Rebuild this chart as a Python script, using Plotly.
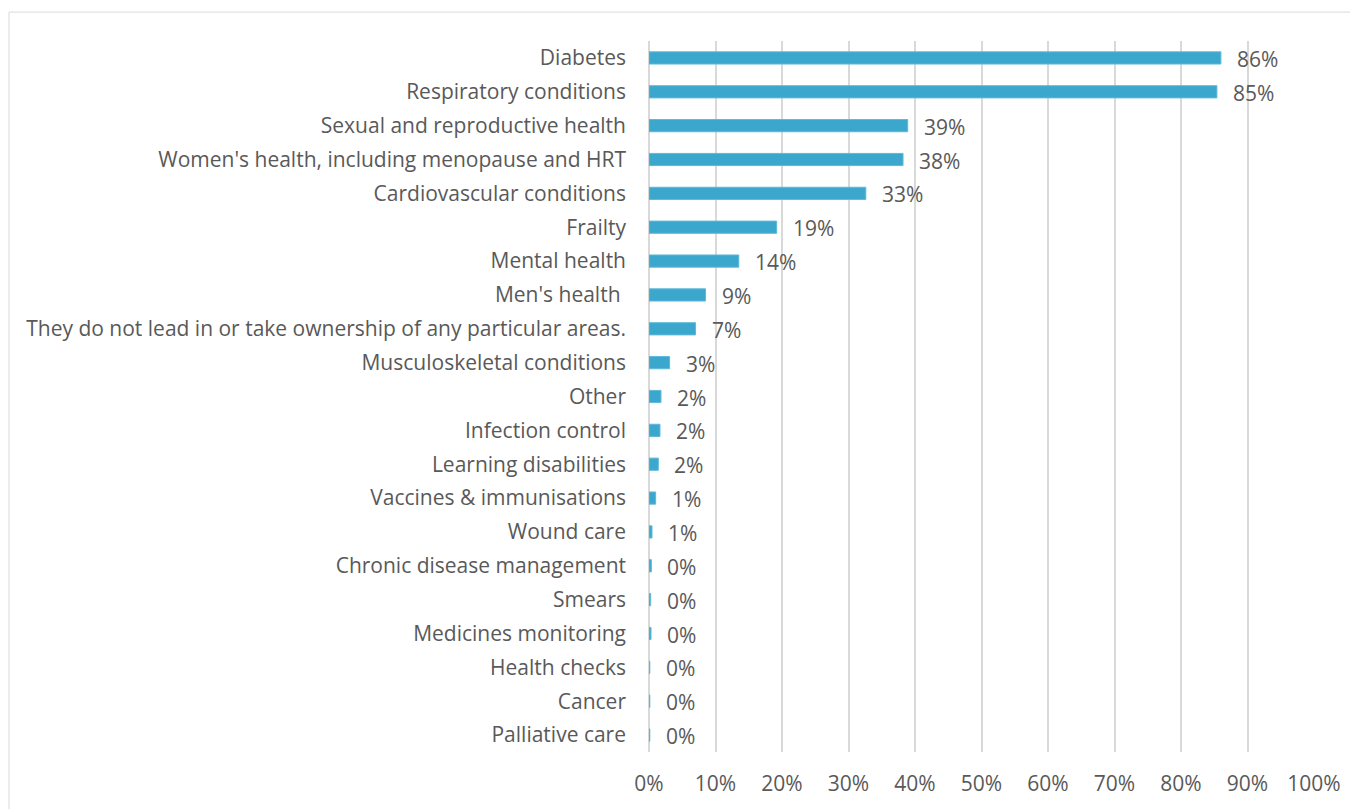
import plotly.graph_objects as go

categories = [
    "Diabetes",
    "Respiratory conditions",
    "Sexual and reproductive health",
    "Women's health, including menopause and HRT",
    "Cardiovascular conditions",
    "Frailty",
    "Mental health",
    "Men's health ",
    "They do not lead in or take ownership of any particular areas.",
    "Musculoskeletal conditions",
    "Other",
    "Infection control",
    "Learning disabilities",
    "Vaccines & immunisations",
    "Wound care",
    "Chronic disease management",
    "Smears",
    "Medicines monitoring",
    "Health checks",
    "Cancer",
    "Palliative care",
]
values = [86.0, 85.4, 38.9, 38.2, 32.6, 19.2, 13.5, 8.5, 7.0, 3.1,
          1.8, 1.65, 1.4, 1.0, 0.45, 0.35, 0.25, 0.3, 0.12, 0.12, 0.12]
label_pct = [86, 85, 39, 38, 33, 19, 14, 9, 7, 3, 2, 2, 2, 1, 1, 0, 0, 0, 0, 0, 0]
x_ticks = [0, 10, 20, 30, 40, 50, 60, 70, 80, 90, 100]

FONT = "Open Sans, Carlito, Calibri, sans-serif"
TXT = "#595959"
FS = 21

fig = go.Figure()
fig.add_trace(go.Bar(
    x=values,
    y=categories,
    orientation="h",
    marker=dict(color="#3BA7CD", line=dict(color="#5CB9DB", width=1)),
    width=0.36,
    hoverinfo="skip",
))

for v, c, lab in zip(values, categories, label_pct):
    fig.add_annotation(x=v, y=c, text=f"{lab}%", showarrow=False,
                       xanchor="left", yanchor="middle", xshift=14, yshift=-1,
                       font=dict(family=FONT, size=FS, color=TXT))

# page body has an 8px default margin; figure sized to fill the rest
OFF = 8
W, H = 1358 - OFF, 809 - OFF
ml, mr, mt, mb = 649 - OFF, 44, 41 - OFF, 55
pw, ph = W - ml - mr, H - mt - mb
fig.add_shape(type="rect", xref="paper", yref="paper",
              x0=(9 - OFF - ml) / pw, x1=(W + 20 - ml) / pw,
              y0=-(mb + 20) / ph, y1=1 + (mt - (12 - OFF)) / ph,
              line=dict(color="#D9D9D9", width=1), fillcolor="rgba(0,0,0,0)",
              layer="below")

fig.update_layout(
    width=W, height=H, autosize=False,
    margin=dict(l=ml, r=mr, t=mt, b=mb, pad=0),
    plot_bgcolor="white", paper_bgcolor="white",
    showlegend=False,
    font=dict(family=FONT, size=FS, color=TXT),
    xaxis=dict(range=[0, 100], tickvals=x_ticks, ticktext=[f"{t}%" for t in x_ticks],
               showgrid=True, gridcolor="#D9D9D9", gridwidth=2,
               zeroline=True, zerolinecolor="#D9D9D9", zerolinewidth=2,
               showline=False, ticks="", ticklabelstandoff=17,
               tickfont=dict(family=FONT, size=FS, color=TXT), fixedrange=True),
    yaxis=dict(categoryorder="array", categoryarray=categories[::-1],
               range=[-0.5, len(categories) - 0.5],
               showgrid=False, zeroline=False, showline=False, ticks="",
               ticklabelstandoff=22,
               tickfont=dict(family=FONT, size=FS, color=TXT), fixedrange=True),
)

fig.write_html("out.html")
